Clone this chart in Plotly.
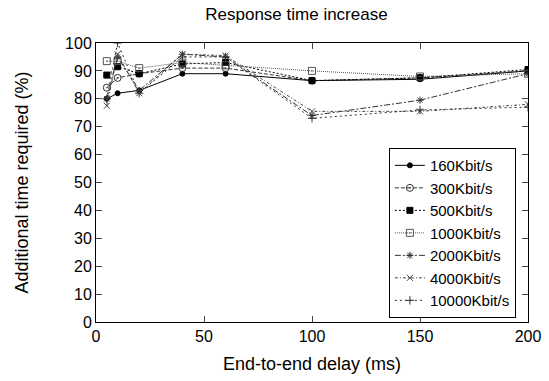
import plotly.graph_objects as go

delay = [5, 10, 20, 40, 60, 100, 150, 200]
series_names = ["160Kbit/s", "300Kbit/s", "500Kbit/s", "1000Kbit/s", "2000Kbit/s", "4000Kbit/s", "10000Kbit/s"]
v160 = [80, 82, 83, 89, 89, 86.5, 87, 90]
v300 = [84, 87.5, 89, 91, 91, 86.5, 87.5, 90]
v500 = [88.5, 91.5, 89, 92.5, 93, 86.5, 87.5, 90.5]
v1000 = [93.5, 93.5, 91, 93, 92, 90, 88, 89]
v2000 = [80, 95, 83, 96, 95, 74, 79.5, 89]
v4000 = [77.5, 96, 82, 96, 95.5, 75.5, 75.5, 78]
v10000 = [80, 100, 82, 95, 95, 73, 76, 77]
values = [v160, v300, v500, v1000, v2000, v4000, v10000]
x_ticks = [0, 50, 100, 150, 200]
y_ticks = list(range(0, 101, 10))

styles = [
    dict(dash="solid", symbol="circle", color="black", lw=1.0, ms=5),
    dict(dash="4px,2px", symbol="circle-open-dot", color="#333", lw=1.0, ms=7),
    dict(dash="2px,2px", symbol="square", color="black", lw=1.0, ms=6),
    dict(dash="1px,1px", symbol="square-open-dot", color="#555", lw=1.0, ms=7),
    dict(dash="6px,2px,2px,2px", symbol="asterisk-open", color="#333", lw=1.0, ms=6),
    dict(dash="3px,2px,1px,2px", symbol="x-thin-open", color="#444", lw=1.0, ms=6),
    dict(dash="2px,3px", symbol="cross-thin-open", color="#333", lw=1.0, ms=6),
]

fig = go.Figure()
for name, vals, st in zip(series_names, values, styles):
    fig.add_trace(go.Scatter(
        x=delay, y=vals, name=name, mode="lines+markers",
        line=dict(color=st["color"], width=st["lw"], dash=st["dash"]),
        marker=dict(symbol=st["symbol"], size=st["ms"], color=st["color"],
                    line=dict(color=st["color"], width=1)),
    ))

font = "Liberation Sans, Arial, sans-serif"
fig.update_layout(
    width=549, height=381,
    margin=dict(l=96, r=21, t=43, b=59),
    paper_bgcolor="white", plot_bgcolor="white",
    font=dict(family=font, size=16, color="black"),
    title=dict(text="Response time increase", x=0.54, xanchor="center", y=0.962, yanchor="middle",
               font=dict(size=17)),
    showlegend=True,
    legend=dict(x=0.972, y=0.014, xanchor="right", yanchor="bottom",
                bordercolor="black", borderwidth=1, bgcolor="white",
                font=dict(size=15), tracegroupgap=0),
)
fig.update_xaxes(range=[0, 200], tickvals=x_ticks, ticks="inside", ticklen=6,
                 showline=True, linecolor="black", linewidth=1, mirror="ticks",
                 showgrid=False, zeroline=False, automargin=False,
                 title=dict(text="End-to-end delay (ms)", font=dict(size=18), standoff=13),
                 tickfont=dict(size=16))
fig.update_yaxes(range=[0, 100], tickvals=y_ticks, ticks="inside", ticklen=6,
                 showline=True, linecolor="black", linewidth=1, mirror="ticks",
                 showgrid=False, zeroline=False, automargin=False,
                 title=dict(text="Additional time required (%)", font=dict(size=18), standoff=31),
                 tickfont=dict(size=16))

fig.write_html("out.html")
